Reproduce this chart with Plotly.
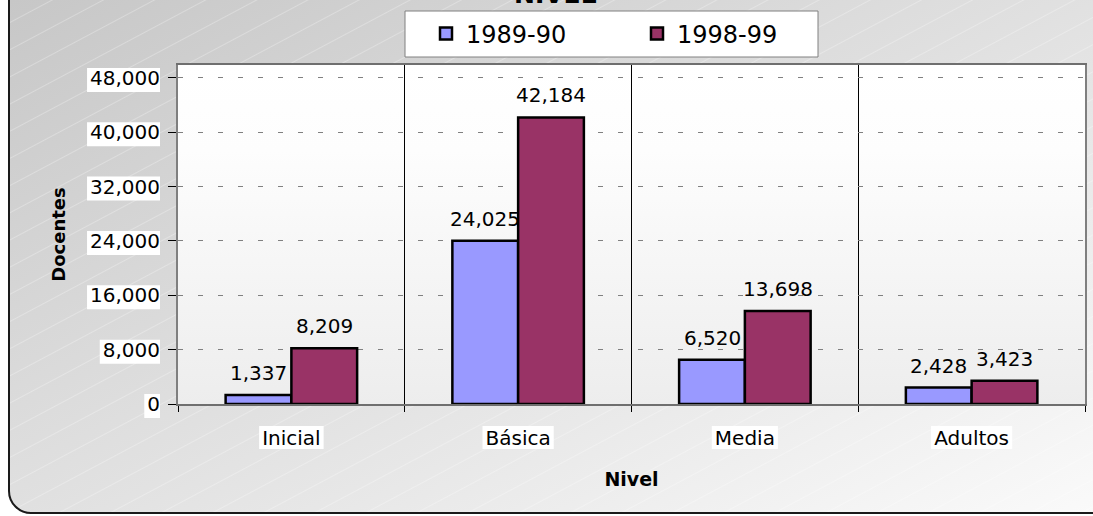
import base64
import plotly.graph_objects as go

# ---------------- data ----------------
categories = ["Inicial", "Básica", "Media", "Adultos"]
series_names = ["1989-90", "1998-99"]
values_1989 = [1337, 24025, 6520, 2428]
values_1998 = [8209, 42184, 13698, 3423]
y_ticks = [0, 8000, 16000, 24000, 32000, 40000, 48000]
y_max = 49900

# ---------------- layout constants ----------------
W, H = 1093, 516
L, R, T, B = 178, 8, 65, 112
PW, PH = W - L - R, H - T - B
FONT = "DejaVu Sans"
C1 = "#9999ff"
C2 = "#993366"
BARGAP = 0.42

# approximate DejaVu Sans advance widths (em)
ADV = {'0': .636, '1': .636, '2': .636, '3': .636, '4': .636, '5': .636, '6': .636,
       '7': .636, '8': .636, '9': .636, ',': .318, 'I': .295, 'n': .634, 'i': .278,
       'c': .55, 'a': .613, 'l': .278, 'B': .686, 'á': .613, 's': .521, 'M': .863,
       'e': .615, 'd': .635, 'A': .684, 'u': .634, 't': .392, 'o': .612}


def text_w(s, size):
    return sum(ADV.get(ch, 0.6) for ch in s) * size


def px_x(xp):
    return (xp - L) / PW


def px_y(yp):
    return (H - B - yp) / PH


# ---------------- background (decoration) ----------------
svg = f'''<svg xmlns="http://www.w3.org/2000/svg" width="{W}" height="{H}" viewBox="0 0 {W} {H}">
<defs>
<linearGradient id="g" x1="0" y1="0" x2="1" y2="1">
<stop offset="0" stop-color="#c5c5c5"/>
<stop offset="1" stop-color="#fbfbfb"/>
</linearGradient>
<linearGradient id="p" x1="0" y1="0" x2="0" y2="1">
<stop offset="0" stop-color="#ffffff"/>
<stop offset="0.25" stop-color="#fdfdfd"/>
<stop offset="1" stop-color="#ededed"/>
</linearGradient>
<pattern id="s" width="60" height="24" patternUnits="userSpaceOnUse" patternTransform="rotate(-28)">
<line x1="0" y1="0.5" x2="60" y2="0.5" stroke="#ffffff" stroke-opacity="0.35" stroke-width="0.8"/>
</pattern>
</defs>
<rect x="0" y="0" width="{W}" height="{H}" fill="#ffffff"/>
<rect x="9" y="-40" width="{W + 40}" height="553" rx="22" ry="22" fill="url(#g)"/>
<rect x="9" y="-40" width="{W + 40}" height="553" rx="22" ry="22" fill="url(#s)" stroke="#1a1a1a" stroke-width="2"/>
<rect x="{L}" y="{T}" width="{PW}" height="{PH}" fill="url(#p)"/>
</svg>'''
bg_src = "data:image/svg+xml;base64," + base64.b64encode(svg.encode("utf-8")).decode("ascii")

fig = go.Figure()
series = [(series_names[0], values_1989, C1), (series_names[1], values_1998, C2)]
for name, vals, col in series:
    fig.add_trace(go.Bar(
        name=name, x=categories, y=vals,
        marker=dict(color=col, line=dict(color="#000000", width=2.5)),
        hovertemplate="%{x}: %{y:,}<extra>" + name + "</extra>",
    ))

# value labels anchored at each bar top (category index +/- half group slot)
annotations = []
slot = (1 - BARGAP) / len(series)
for k, (name, vals, col) in enumerate(series):
    off = (k - (len(series) - 1) / 2) * slot
    for i, v in enumerate(vals):
        annotations.append(dict(text=f"{v:,}", xref="x", yref="y", x=i + off, y=v,
                                xanchor="center", yanchor="bottom", yshift=8, showarrow=False,
                                font=dict(family=FONT, size=20, color="#000000")))
annotations.append(dict(text="<b>NIVEL</b>", xref="paper", yref="paper", x=px_x(555), y=px_y(11),
                        xanchor="center", yanchor="bottom", showarrow=False,
                        font=dict(family=FONT, size=25, color="#000000")))

shapes = []
# legend frame
shapes.append(dict(type="rect", xref="paper", yref="paper", layer="below",
                   x0=px_x(405), x1=px_x(818), y0=px_y(57), y1=px_y(11),
                   fillcolor="#ffffff", line=dict(color="#808080", width=1)))
# white boxes behind y tick labels
for v in y_ticks:
    lab = f"{v:,}"
    w = text_w(lab, 20) + 3
    yc = (H - B) - v / y_max * PH + 2
    shapes.append(dict(type="rect", xref="paper", yref="paper", layer="below",
                       x0=px_x(160 - w), x1=px_x(160), y0=px_y(yc + 12), y1=px_y(yc - 12),
                       fillcolor="#ffffff", line=dict(width=0)))
# white boxes behind category labels
n = len(categories)
for i, c in enumerate(categories):
    w = text_w(c, 20) + 6
    xc = L + (i + 0.5) / n * PW
    shapes.append(dict(type="rect", xref="paper", yref="paper", layer="below",
                       x0=px_x(xc - w / 2), x1=px_x(xc + w / 2), y0=px_y(449), y1=px_y(426),
                       fillcolor="#ffffff", line=dict(width=0)))

fig.update_layout(
    width=W, height=H,
    margin=dict(l=L, r=R, t=T, b=B, autoexpand=False),
    paper_bgcolor="#ffffff", plot_bgcolor="rgba(0,0,0,0)",
    barmode="group", bargap=BARGAP, bargroupgap=0,
    font=dict(family=FONT, size=20, color="#000000"),
    showlegend=True,
    legend=dict(orientation="h", x=px_x(426), xanchor="left", y=px_y(34), yanchor="middle",
                bgcolor="rgba(0,0,0,0)", borderwidth=0,
                font=dict(family=FONT, size=24, color="#000000"),
                entrywidth=166, entrywidthmode="pixels", traceorder="normal"),
    images=[dict(source=bg_src, xref="paper", yref="paper", x=-L / PW, y=1 + T / PH,
                 sizex=W / PW, sizey=H / PH, xanchor="left", yanchor="top",
                 sizing="stretch", layer="below")],
    shapes=shapes,
    annotations=annotations,
    xaxis=dict(
        range=[-0.5, 3.5], tickson="boundaries", showgrid=True, gridcolor="#000000", gridwidth=1,
        showline=True, linecolor="#6f6f6f", linewidth=2, mirror=True,
        ticks="outside", ticklen=6, tickcolor="#000000", ticklabelstandoff=15,
        tickfont=dict(family=FONT, size=20, color="#000000"),
        title=dict(text="<b>Nivel</b>", font=dict(family=FONT, size=19, color="#000000"), standoff=24),
        zeroline=False,
    ),
    yaxis=dict(
        range=[0, y_max], tickvals=y_ticks, tickformat=",",
        showgrid=True, gridcolor="#808080", gridwidth=1, griddash="5px,15px",
        showline=True, linecolor="#7f7f7f", linewidth=2, mirror=True,
        ticks="outside", ticklen=8, tickcolor="#000000", ticklabelstandoff=4,
        tickfont=dict(family=FONT, size=20, color="#000000"),
        title=dict(text="<b>Docentes</b>", font=dict(family=FONT, size=18, color="#000000"), standoff=20),
        zeroline=False,
    ),
)

fig.write_html("out.html", config={"displayModeBar": False},
               post_script="document.body.style.margin='0px';")
